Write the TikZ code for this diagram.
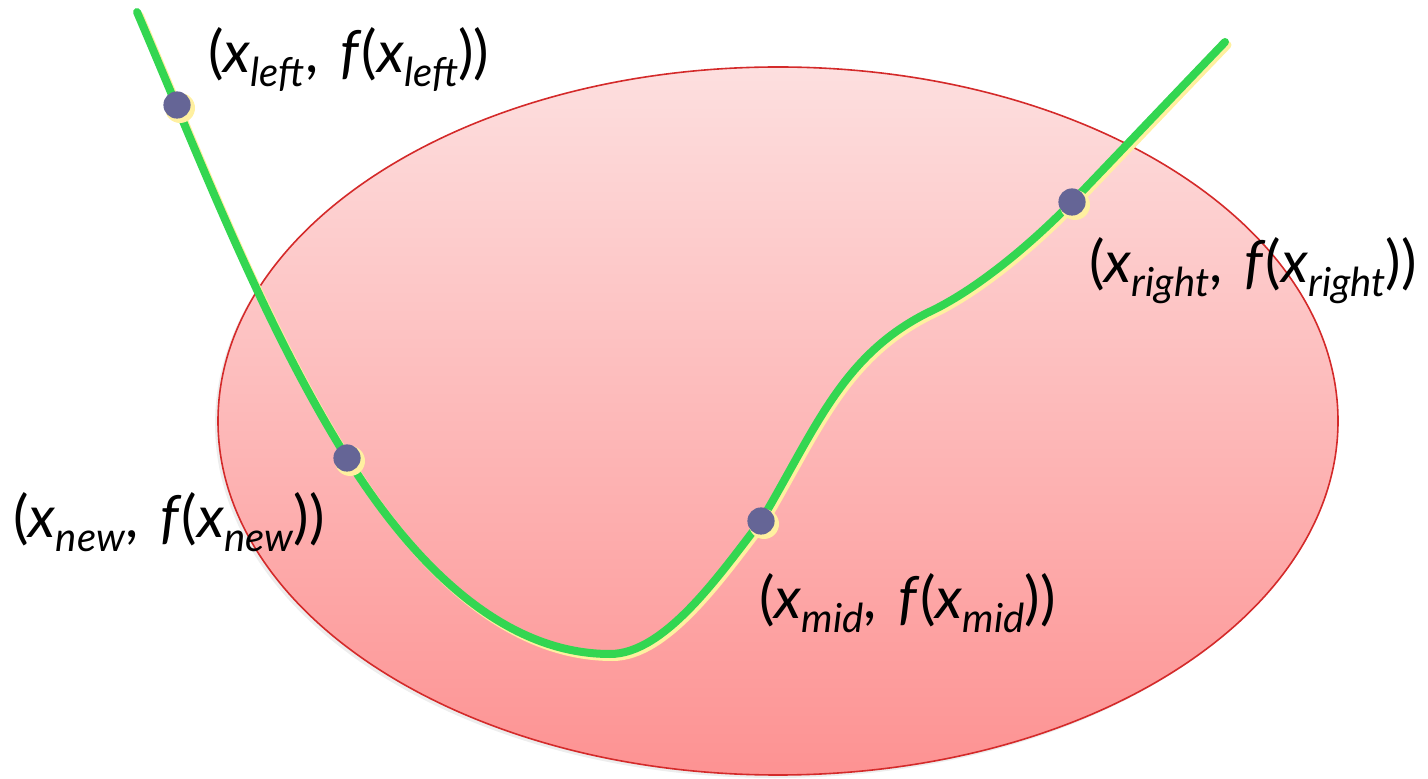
\documentclass[tikz,border=0pt]{standalone}
\usepackage{fontspec}
\setmainfont{Lato}
\usetikzlibrary{shapes.geometric}
\definecolor{ellred}{HTML}{D42A2A}
\definecolor{elltop}{HTML}{FDDFDF}
\definecolor{ellbot}{HTML}{FD9292}
\definecolor{curvegreen}{HTML}{33D651}
\definecolor{shadowyellow}{HTML}{FFF0A0}
\definecolor{dotblue}{HTML}{656596}
\newcommand{\sbs}[1]{\raisebox{-7pt}{\fontsize{20}{20}\selectfont\itshape #1}}
\newcommand{\ptlabel}[1]{(\textit{x}\sbs{#1},\hspace{0.38em}\textit{f}(\textit{x}\sbs{#1}))}
\newcommand{\fcurve}{(137,12) .. controls (200,159) and (262,322) .. (347,458)
  .. controls (411,560) and (500,654) .. (610,654)
  .. controls (665,654) and (720,574) .. (761,521)
  .. controls (816,428) and (842,356) .. (927,313)
  .. controls (975,291) and (1030,245) .. (1072,202)
  .. controls (1120,152) and (1175,94) .. (1225,42)}
\begin{document}
\begin{tikzpicture}[x=0.5pt,y=-0.5pt,
  lbl/.style={font=\fontsize{29}{32}\selectfont, inner sep=0pt, anchor=base west},
  dotshadow/.style={circle, fill=shadowyellow, draw=none, minimum size=15pt, inner sep=0pt},
  dotcore/.style={circle, fill=dotblue, draw=none, minimum size=13.6pt, inner sep=0pt},
  curve/.style={line width=4pt, line cap=round}]
\useasboundingbox (0,0) rectangle (1428,779);
\node[ellipse, minimum width=560pt, minimum height=354pt, fill=black!7] (ellshadow) at (775,424) {};
\node[ellipse, minimum width=560pt, minimum height=354pt,
  top color=elltop, bottom color=ellbot, draw=ellred, line width=0.8pt] (ell) at (778,421) {};
\draw[shadowyellow, curve, shift={(2.5,3)}] \fcurve;
\draw[curvegreen, curve] \fcurve;
\node[dotshadow] (sl) at (180,108) {};
\node[dotcore] (pl) at (177,105) {};
\node[dotshadow] (sn) at (350,461) {};
\node[dotcore] (pn) at (347,458) {};
\node[dotshadow] (sm) at (764,524) {};
\node[dotcore] (pm) at (761,521) {};
\node[dotshadow] (sr) at (1075,205) {};
\node[dotcore] (pr) at (1072,202) {};
\node[lbl] (labelleft) at (208,73) {\ptlabel{left}};
\node[lbl] (labelnew) at (13,538) {\ptlabel{new}};
\node[lbl] (labelmid) at (759,618) {\ptlabel{mid}};
\node[lbl] (labelright) at (1089,283) {\ptlabel{right}};
\end{tikzpicture}
\end{document}
